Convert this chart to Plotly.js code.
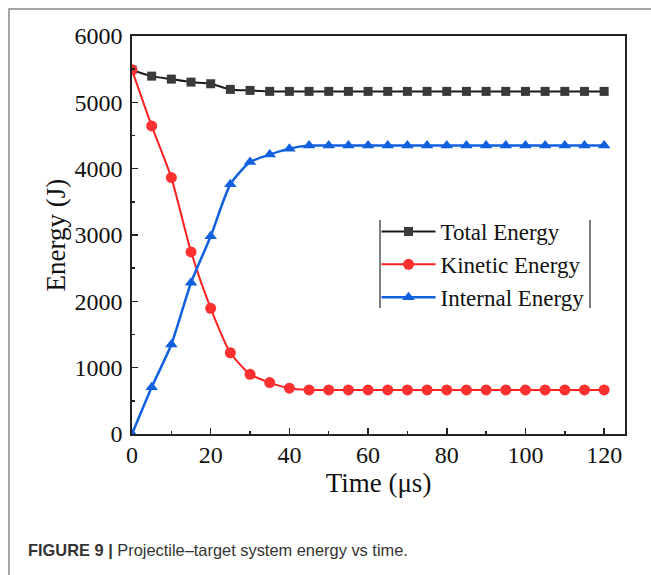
<!DOCTYPE html>
<html>
<head>
<meta charset="utf-8">
<script src="https://cdn.plot.ly/plotly-3.0.1.min.js"></script>
<style>html,body{margin:0;padding:0;background:#fff;}#chart{width:651px;height:575px;}</style>
</head>
<body>
<div id="chart"></div>
<script>
const time = [0,5,10,15,20,25,30,35,40,45,50,55,60,65,70,75,80,85,90,95,100,105,110,115,120];
const totalEnergy = [5490,5395,5350,5305,5280,5195,5180,5165,5165,5165,5165,5165,5165,5165,5165,5165,5165,5165,5165,5165,5165,5165,5165,5165,5165];
const kineticEnergy = [5490,4645,3865,2745,1895,1225,900,775,690,665,665,665,665,665,665,665,665,665,665,665,665,665,665,665,665];
const internalEnergy = [0,705,1350,2280,2980,3765,4100,4212,4302,4348,4348,4348,4348,4348,4348,4348,4348,4348,4348,4348,4348,4348,4348,4348,4348];
const seriesNames = ['Total Energy','Kinetic Energy','Internal Energy'];
const xTicks = [0,20,40,60,80,100,120];
const yTicks = [0,1000,2000,3000,4000,5000,6000];

const serif = 'Liberation Serif, Times New Roman, serif';
const traces = [
  {x: time, y: totalEnergy, name: seriesNames[0], mode: 'lines+markers',
   line: {color: '#1a1a1a', width: 2, shape: 'spline', smoothing: 0.6},
   marker: {symbol: 'square', size: 9, color: '#3a3a3a'}},
  {x: time, y: kineticEnergy, name: seriesNames[1], mode: 'lines+markers',
   line: {color: '#ff2020', width: 2, shape: 'spline', smoothing: 0.6},
   marker: {symbol: 'circle', size: 11, color: '#ff3030'}},
  {x: time, y: internalEnergy, name: seriesNames[2], mode: 'lines+markers',
   line: {color: '#1060e0', width: 2.5, shape: 'spline', smoothing: 0.6},
   marker: {symbol: 'triangle-up', size: 11, color: '#1060e0'}}
];

const layout = {
  width: 651, height: 575,
  margin: {l: 132, r: 26, t: 36, b: 141},
  paper_bgcolor: '#fff', plot_bgcolor: '#fff',
  showlegend: true,
  legend: {x: 0.496, y: 0.563, xanchor: 'left', yanchor: 'top',
           font: {family: serif, size: 23, color: '#111'},
           bgcolor: 'rgba(0,0,0,0)', borderwidth: 0, itemwidth: 54, tracegroupgap: 0},
  xaxis: {range: [0, 125.3], tickvals: xTicks, ticktext: xTicks.map(String),
          ticks: 'inside', ticklen: 6, tickwidth: 1.5, tickcolor: '#222',
          minor: {dtick: 10, ticks: 'inside', ticklen: 3, tickcolor: '#222', tickwidth: 1.5},
          showline: true, linecolor: '#222', linewidth: 1.8, mirror: true,
          showgrid: false, zeroline: false, ticklabelstandoff: -2,
          tickfont: {family: serif, size: 24, color: '#111'},
          title: {text: 'Time (μs)', font: {family: serif, size: 27, color: '#111'}, standoff: 6}},
  yaxis: {range: [0, 6000], tickvals: yTicks, ticktext: yTicks.map(String),
          ticks: 'inside', ticklen: 6, tickwidth: 1.5, tickcolor: '#222',
          minor: {dtick: 500, ticks: 'inside', ticklen: 3, tickcolor: '#222', tickwidth: 1.5},
          showline: true, linecolor: '#222', linewidth: 1.8, mirror: true,
          showgrid: false, zeroline: false, ticklabelstandoff: 3,
          tickfont: {family: serif, size: 24, color: '#111'},
          title: {text: 'Energy (J)', font: {family: serif, size: 27, color: '#111'}, standoff: 1}},
  shapes: [
    {type: 'line', xref: 'paper', yref: 'paper', x0: (380-132)/493, x1: (380-132)/493, y0: (434-220)/398, y1: (434-308)/398, line: {color: '#555', width: 1.5}},
    {type: 'line', xref: 'paper', yref: 'paper', x0: (590-132)/493, x1: (590-132)/493, y0: (434-220)/398, y1: (434-308)/398, line: {color: '#555', width: 1.5}},
    {type: 'path', xref: 'paper', yref: 'paper',
     path: 'M ' + ((9-132)/493) + ' ' + ((434-576)/398) + ' L ' + ((9-132)/493) + ' ' + ((434-9)/398) + ' L ' + ((652-132)/493) + ' ' + ((434-9)/398),
     line: {color: '#888', width: 1.5}}
  ],
  annotations: [
    {xref: 'paper', yref: 'paper', x: (26-132)/493, y: (434-550)/398, xanchor: 'left', yanchor: 'middle', showarrow: false,
     text: '<b>FIGURE 9 |</b> Projectile–target system energy vs time.',
     font: {family: 'Liberation Sans, Arial, sans-serif', size: 16.4, color: '#333'}}
  ]
};

Plotly.newPlot('chart', traces, layout, {displayModeBar: false, staticPlot: true});
</script>
</body>
</html>
